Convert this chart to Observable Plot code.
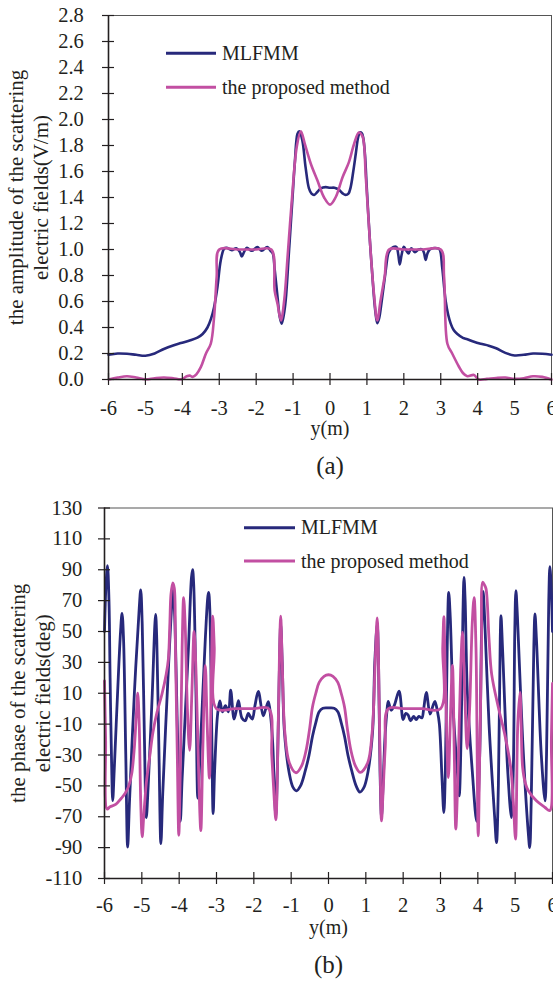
<!DOCTYPE html>
<html>
<head>
<meta charset="utf-8">
<script src="https://cdn.jsdelivr.net/npm/d3@7"></script>
<script src="https://cdn.jsdelivr.net/npm/@observablehq/plot@0.6"></script>
<style>
  body { margin: 0; background: #fff; }
  svg { display: block; }
  svg text { font-family: 'Liberation Serif', 'Times New Roman', serif !important; }
</style>
</head>
<body>
<div id="chart"></div>
<script>
// ---------- data ----------
const seriesNames = ["MLFMM", "the proposed method"];
const seriesColors = ["#27297b", "#c24fa2"];

const xTicks = [-6, -5, -4, -3, -2, -1, 0, 1, 2, 3, 4, 5, 6];
const ampTicks = [0, 0.2, 0.4, 0.6, 0.8, 1.0, 1.2, 1.4, 1.6, 1.8, 2.0, 2.2, 2.4, 2.6, 2.8];
const phaseTicks = [-110, -90, -70, -50, -30, -10, 10, 30, 50, 70, 90, 110, 130];

// (a) amplitude, MLFMM
const ampMlfmmX = [-6.0,-5.75,-5.5,-5.25,-5.0,-4.75,-4.5,-4.25,-4.04,-3.8,-3.59,-3.45,-3.32,-3.22,-3.14,-3.05,-2.96,-2.87,-2.8,-2.66,-2.54,-2.44,-2.39,-2.33,-2.25,-2.12,-1.97,-1.85,-1.7,-1.61,-1.55,-1.5,-1.42,-1.36,-1.31,-1.25,-1.2,-1.11,-1.02,-0.95,-0.88,-0.83,-0.75,-0.66,-0.57,-0.5,-0.43,-0.35,-0.25,-0.12,0,0.12,0.24,0.35,0.42,0.5,0.56,0.63,0.70,0.76,0.81,0.86,0.9,0.95,0.99,1.08,1.17,1.23,1.28,1.33,1.39,1.51,1.58,1.64,1.72,1.8,1.85,1.89,1.94,2.0,2.07,2.13,2.2,2.3,2.4,2.5,2.55,2.59,2.64,2.7,2.78,2.9,2.97,3.04,3.13,3.2,3.27,3.35,3.45,3.6,3.72,3.9,4.08,4.3,4.5,4.75,5.0,5.25,5.5,5.75,6.0];
const ampMlfmmY = [0.19,0.2,0.198,0.19,0.183,0.2,0.235,0.262,0.28,0.3,0.322,0.35,0.40,0.47,0.556,0.71,0.915,1.005,1.013,0.995,1.01,0.98,0.946,0.98,1.013,0.99,1.018,0.99,1.018,0.99,0.97,0.85,0.63,0.48,0.43,0.5,0.61,0.99,1.38,1.68,1.89,1.91,1.84,1.63,1.47,1.43,1.42,1.44,1.47,1.48,1.475,1.475,1.46,1.43,1.42,1.43,1.48,1.6,1.74,1.86,1.9,1.895,1.86,1.72,1.505,1.07,0.71,0.52,0.433,0.47,0.58,0.84,0.97,1.0,1.02,1.02,0.96,0.885,0.96,1.02,0.99,0.97,1.01,0.98,1.0,1.0,0.97,0.92,0.97,1.0,1.01,1.01,1.0,0.86,0.61,0.5,0.43,0.38,0.35,0.32,0.31,0.29,0.275,0.26,0.24,0.205,0.185,0.19,0.2,0.198,0.19];

// (a) amplitude, the proposed method
const ampPropX = [-6.0,-5.75,-5.5,-5.25,-5.0,-4.75,-4.5,-4.25,-4.02,-3.88,-3.8,-3.72,-3.62,-3.5,-3.36,-3.23,-3.14,-3.07,-3.0,-2.5,-2.0,-1.59,-1.5,-1.42,-1.33,-1.24,-1.15,-1.02,-0.9,-0.79,-0.68,-0.52,-0.34,-0.16,0,0.15,0.34,0.51,0.65,0.78,0.88,0.97,1.08,1.19,1.28,1.37,1.48,1.6,2.0,2.5,3.0,3.09,3.18,3.31,3.49,3.6,3.72,3.9,4.03,4.25,4.5,4.75,5.0,5.25,5.5,5.75,6.0];
const ampPropY = [0.0,0.015,0.025,0.015,0.002,0.01,0.015,0.01,0.002,0.025,0.03,0.02,0.04,0.095,0.2,0.275,0.48,0.79,1.0,1.0,1.0,1.0,0.685,0.58,0.454,0.61,0.94,1.43,1.79,1.91,1.81,1.66,1.53,1.40,1.345,1.40,1.556,1.67,1.81,1.90,1.87,1.556,1.07,0.66,0.454,0.61,0.79,1.0,1.0,1.0,1.0,0.79,0.275,0.2,0.1,0.05,0.025,0.035,0.0,0.005,0.012,0.015,0.005,0.01,0.025,0.02,0.0];

// (b) phase, MLFMM
const phaseMlfmmX = [-6.0,-5.96,-5.92,-5.88,-5.85,-5.81,-5.78,-5.74,-5.65,-5.57,-5.53,-5.49,-5.43,-5.38,-5.33,-5.2,-5.07,-5.03,-4.99,-4.93,-4.88,-4.83,-4.72,-4.65,-4.63,-4.6,-4.54,-4.49,-4.44,-4.3,-4.19,-4.16,-4.12,-4.04,-3.97,-3.92,-3.75,-3.67,-3.64,-3.61,-3.55,-3.5,-3.45,-3.3,-3.23,-3.21,-3.18,-3.13,-3.09,-3.05,-2.97,-2.91,-2.84,-2.76,-2.68,-2.62,-2.53,-2.46,-2.41,-2.32,-2.23,-2.15,-2.1,-2.04,-1.97,-1.88,-1.75,-1.68,-1.61,-1.55,-1.5,-1.45,-1.41,-1.37,-1.32,-1.28,-1.24,-1.18,-1.05,-0.95,-0.86,-0.75,-0.62,-0.52,-0.43,-0.34,-0.25,-0.15,0,0.15,0.25,0.34,0.43,0.52,0.62,0.74,0.84,0.95,1.05,1.18,1.24,1.305,1.34,1.38,1.42,1.46,1.51,1.56,1.6,1.68,1.76,1.89,2.0,2.07,2.13,2.2,2.28,2.35,2.42,2.5,2.55,2.62,2.72,2.8,2.85,2.92,2.97,3.04,3.09,3.13,3.18,3.22,3.26,3.35,3.45,3.5,3.55,3.6,3.63,3.66,3.72,3.85,3.97,4.05,4.1,4.14,4.18,4.3,4.45,4.5,4.55,4.6,4.62,4.66,4.8,4.9,4.95,4.99,5.02,5.06,5.2,5.35,5.39,5.43,5.5,5.53,5.57,5.7,5.8,5.84,5.9,5.93,5.97,6.0];
const phaseMlfmmY = [50,80,92.7,70,20,-35,-59.5,-40,10,50,61.8,45,-30,-89.7,-60,10,65,77,55,-20,-70.5,-50,10,55,61,45,-30,-87.4,-55,20,70,77,60,-20,-73,-45,40,85,90,80,10,-58,-35,45,73,75.4,65,-10,-68,-40,-3.5,5,-2,2,-2,12,-6.7,0,5.2,-6,-7.8,-3,-5,-6.7,2,11.2,-4.6,0,4.5,-5,-20,-50,-70,-40,20,55,30,-15,-42,-51,-53.2,-50,-40,-30,-18,-9,-2,0.3,0.5,0.3,-2,-9,-18,-30,-40,-50,-54,-51,-42,-15,30,55,30,-40,-70,-50,-20,-3,4.7,-1,2,11.3,-7,-3,-4,-7.8,-5,-7,-5,-6,0,10.6,-3.5,2,4.7,-2,-10,-45,-67.3,-40,40,75.4,60,-5,-40,-56.4,-20,60,85,70,10,-40,-73,-30,50,76,60,-10,-70,-86.8,-50,45,60.3,40,-40,-70.5,-40,50,76.5,60,-20,-80,-90,-60,40,61.4,45,-30,-59.7,-30,70,92,75,50];

// (b) phase, the proposed method
const phasePropX = [-6.0,-5.97,-5.93,-5.85,-5.7,-5.55,-5.45,-5.35,-5.27,-5.2,-5.15,-5.11,-5.07,-5.03,-4.99,-4.95,-4.88,-4.8,-4.7,-4.6,-4.46,-4.35,-4.29,-4.25,-4.22,-4.17,-4.13,-4.1,-4.05,-4.01,-3.97,-3.92,-3.88,-3.84,-3.78,-3.72,-3.66,-3.6,-3.55,-3.48,-3.42,-3.37,-3.3,-3.25,-3.19,-3.14,-3.1,-3.06,-3.0,-2.5,-2.0,-1.6,-1.52,-1.45,-1.41,-1.36,-1.31,-1.28,-1.24,-1.17,-1.05,-0.87,-0.72,-0.6,-0.5,-0.43,-0.34,-0.25,-0.12,0,0.12,0.25,0.34,0.43,0.5,0.6,0.72,0.85,1.05,1.17,1.25,1.305,1.34,1.38,1.42,1.46,1.52,1.6,2.0,2.5,3.0,3.06,3.09,3.13,3.21,3.26,3.32,3.37,3.41,3.47,3.54,3.59,3.65,3.715,3.78,3.85,3.9,3.95,4.01,4.05,4.1,4.13,4.18,4.22,4.3,4.37,4.55,4.72,4.88,4.95,5.01,5.07,5.13,5.16,5.2,5.27,5.35,5.57,5.8,5.93,5.97,6.0];
const phasePropY = [18,-20,-65,-63.5,-62,-58,-55,-50,-42,-25,-5,10,-10,-60,-83,-70,-48,-33,-15,-3,9.5,22,32,55,74,81.5,78,40,-30,-82,-40,40,72,55,0,-27,10,50,25,-40,-79,-30,28,-10,-45,20,60,40,0,0,0,0,-30,-60,-72,-30,40,60,30,-15,-35,-41.5,-37,-27,-12,1,10,17,21,22,21,17,10,1,-12,-27,-37,-41.3,-35,-15,30,58.8,30,-30,-72.7,-55,-25,0,0,0,0,40,59.6,20,-44.6,-10,28,-30,-78,-40,25,49.5,10,-26,0,55,72,40,-82.4,-30,40,81.9,80,77.6,45,22.4,0.8,-16.5,-38,-60,-84.5,-10,10.6,-10,-38,-48,-53,-59.7,-64,-66,-20,16.3];

// ---------- drawing ----------
const FONT = "'Liberation Serif', 'Times New Roman', serif";
const INK = "#231f20";

function panel(cfg) {
  const W = 553;
  const {H, mt, mb, ml, mr, yDomain, yTicks, yFmt, yPad, xPad, series, yTitle, yTitleDx,
         tag, lineW, legend} = cfg;
  const pw = W - ml - mr, ph = H - mt - mb;
  const lineMarks = series.map((s, k) =>
    Plot.line(s.x.map((x, i) => ({x, y: s.y[i]})), {
      x: "x", y: "y", stroke: seriesColors[k], strokeWidth: lineW,
      curve: "catmull-rom", strokeLinejoin: "round"
    }));
  const svg = Plot.plot({
    width: W, height: H,
    marginTop: mt, marginBottom: mb, marginLeft: ml, marginRight: mr,
    style: {fontFamily: FONT, fontSize: "20px", color: INK, background: "#fff", overflow: "visible"},
    x: {domain: [-6, 6]},
    y: {domain: yDomain},
    marks: [
      Plot.frame({stroke: "#555", strokeWidth: 1}),
      ...lineMarks,
      Plot.ruleX([-6], {stroke: INK, strokeWidth: 1.6}),
      Plot.ruleY([yDomain[0]], {stroke: INK, strokeWidth: 1.6}),
      Plot.tickX(xTicks, {x: d => d, stroke: INK, strokeWidth: 1.2, insetTop: ph - 6, insetBottom: -6}),
      Plot.tickY(yTicks, {y: d => d, stroke: INK, strokeWidth: 1.2, insetLeft: -6, insetRight: pw - 6}),
      Plot.axisX(xTicks, {tickSize: 0, tickPadding: xPad, tickFormat: d => String(d), label: null,
        fill: INK, fontSize: 20.5, fontFamily: FONT}),
      Plot.axisY(yTicks, {tickSize: 0, tickPadding: yPad, tickFormat: yFmt, label: null,
        fill: INK, fontSize: 20.5, fontFamily: FONT}),
      Plot.text(["y(m)"], {text: d => d, frameAnchor: "bottom", lineAnchor: "bottom", dy: 55,
        fontSize: 20, fill: INK, fontFamily: FONT}),
      Plot.text([tag], {text: d => d, frameAnchor: "bottom", lineAnchor: "bottom", dy: 94,
        fontSize: 25, fill: INK, fontFamily: FONT}),
      Plot.text([yTitle], {text: d => d, frameAnchor: "left", rotate: -90, dx: yTitleDx,
        textAnchor: "middle", lineAnchor: "middle", lineHeight: 1.2, fontSize: 21, fill: INK,
        fontFamily: FONT})
    ]
  });
  // in-plot legend
  const g = d3.select(svg).append("g")
    .attr("font-family", FONT).attr("font-size", 20).attr("fill", INK).attr("text-anchor", "start");
  seriesNames.forEach((name, k) => {
    const ly = legend.y[k];
    g.append("line").attr("x1", legend.x1).attr("x2", legend.x2).attr("y1", ly).attr("y2", ly)
      .attr("stroke", seriesColors[k]).attr("stroke-width", 3);
    g.append("text").attr("x", legend.tx).attr("y", ly).attr("dy", "0.33em")
      .attr("text-anchor", "start").text(name);
  });
  return svg;
}

const root = document.getElementById("chart");
root.appendChild(panel({
  H: 490, mt: 15, mb: 111, ml: 108, mr: 2,
  yDomain: [0, 2.8], yTicks: ampTicks, yFmt: d3.format(".1f"), yPad: 24.7, xPad: 20.6,
  series: [{x: ampMlfmmX, y: ampMlfmmY}, {x: ampPropX, y: ampPropY}],
  yTitle: "the amplitude of the scattering\nelectric fields(V/m)", yTitleDx: -80.7,
  tag: "(a)", lineW: 2.6,
  legend: {x1: 166, x2: 216, tx: 222, y: [53.3, 87.3]}
}));
root.appendChild(panel({
  H: 491, mt: 17.5, mb: 103, ml: 104, mr: 1,
  yDomain: [-110, 130], yTicks: phaseTicks, yFmt: d => String(d), yPad: 22.2, xPad: 18.8,
  series: [{x: phaseMlfmmX, y: phaseMlfmmY}, {x: phasePropX, y: phasePropY}],
  yTitle: "the phase of the scattering\nelectric fields(deg)", yTitleDx: -74.7,
  tag: "(b)", lineW: 2.8,
  legend: {x1: 244, x2: 295, tx: 301, y: [37.7, 71]}
}));
</script>
</body>
</html>
